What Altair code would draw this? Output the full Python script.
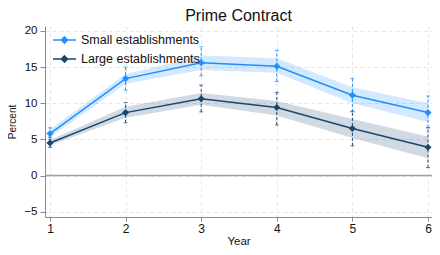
import altair as alt
import pandas as pd

years = [1, 2, 3, 4, 5, 6]
y_ticks = [-5, 0, 5, 10, 15, 20]
series_names = ["Small establishments", "Large establishments"]

small_est = [5.8, 13.4, 15.6, 15.1, 11.1, 8.7]
small_ci_lo = [5.0, 11.8, 13.8, 13.0, 8.8, 6.6]
small_ci_hi = [6.6, 15.0, 17.8, 17.3, 13.4, 11.0]
small_band_lo = [5.3, 12.7, 14.6, 14.2, 10.0, 7.4]
small_band_hi = [6.4, 14.0, 16.6, 16.2, 12.2, 10.0]

large_est = [4.5, 8.7, 10.6, 9.4, 6.5, 3.9]
large_ci_lo = [3.9, 7.3, 8.8, 7.0, 4.1, 1.1]
large_ci_hi = [5.3, 10.1, 12.5, 11.5, 8.9, 6.6]
large_band_lo = [4.2, 8.0, 9.8, 8.3, 5.2, 2.4]
large_band_hi = [4.9, 9.5, 11.4, 10.3, 7.8, 5.4]

colors = ["#1f8fff", "#1a476f"]

rows = []
for name, est, lo, hi, blo, bhi in [
    (series_names[0], small_est, small_ci_lo, small_ci_hi, small_band_lo, small_band_hi),
    (series_names[1], large_est, large_ci_lo, large_ci_hi, large_band_lo, large_band_hi),
]:
    for i, yr in enumerate(years):
        rows.append(dict(series=name, year=yr, est=est[i], lo=lo[i], hi=hi[i], blo=blo[i], bhi=bhi[i]))
df = pd.DataFrame(rows)

FONT = "Liberation Sans"

xscale = alt.Scale(domain=[0.934, 6.053], nice=False, zero=False)
yscale = alt.Scale(domain=[-5.73, 20.67], nice=False, zero=False)
cscale = alt.Scale(domain=series_names, range=colors)

xaxis = alt.Axis(values=years, title="Year", format="d", tickSize=4, labelPadding=2,
                 labelFontSize=12, titleFontSize=11.5, titlePadding=1)
yaxis = alt.Axis(values=y_ticks, title="Percent", tickSize=5, labelPadding=3,
                 labelFontSize=11.5, titleFontSize=10, titlePadding=6)

X = alt.X("year:Q", scale=xscale, axis=xaxis)


def Y(field):
    return alt.Y(field, type="quantitative", scale=yscale, axis=yaxis)


base = alt.Chart(df)

layers = []
for name, col in zip(series_names, colors):
    sub = base.transform_filter(alt.datum.series == name)
    layers.append(sub.mark_area(opacity=0.2, color=col).encode(
        x=X, y=Y("blo"), y2="bhi:Q",
    ))

zero = alt.Chart(pd.DataFrame({"z": [0]})).mark_rule(color="#a0a0a0", strokeWidth=1.5).encode(
    y=Y("z")
)
layers.append(zero)

for name, col in zip(series_names, colors):
    sub = base.transform_filter(alt.datum.series == name)
    layers.append(sub.mark_rule(strokeDash=[3, 2], strokeWidth=1, color=col).encode(
        x=X, y=Y("lo"), y2="hi:Q"))
    layers.append(sub.mark_tick(orient="horizontal", size=4, thickness=1, color=col).encode(
        x=X, y=Y("lo")))
    layers.append(sub.mark_tick(orient="horizontal", size=4, thickness=1, color=col).encode(
        x=X, y=Y("hi")))

legend_symbol = ("M-1.64,0H1.64"
                 "M0,-0.44L0.44,0L0,0.44L-0.44,0Z"
                 "M0,-0.27L0.27,0L0,0.27L-0.27,0Z"
                 "M0,-0.1L0.1,0L0,0.1L-0.1,0Z")

legend = alt.Legend(
    title=None, orient="none", legendX=11.5, legendY=6,
    symbolType=legend_symbol,
    symbolSize=196, symbolStrokeWidth=1.5, labelFont=FONT, labelFontSize=12.5,
    labelColor="#111", labelOffset=8.5, rowPadding=4, padding=0,
)

layers.append(base.mark_line(strokeWidth=1.5).encode(
    x=X, y=Y("est"),
    color=alt.Color("series:N", scale=cscale, legend=legend),
))

for name, col in zip(series_names, colors):
    sub = base.transform_filter(alt.datum.series == name)
    layers.append(sub.mark_point(shape="diamond", filled=True, size=50, opacity=1, color=col).encode(
        x=X, y=Y("est")))

chart = alt.layer(*layers).properties(
    width=387, height=191,
    autosize=alt.AutoSizeParams(type="none"),
    padding={"left": 37, "top": 18, "right": 0, "bottom": 30},
    title=alt.TitleParams("Prime Contract", fontSize=16, font=FONT, fontWeight="normal",
                          color="#111", anchor="middle", offset=1),
).configure_view(stroke=None).configure_axis(
    domainWidth=1, grid=True, gridDash=[4, 3], gridColor="#e6e6e6",
    domainColor="#8a8a8a", tickColor="#8a8a8a", labelFont=FONT, labelColor="#111",
    labelOverlap=False, titleFont=FONT, titleFontWeight="normal", titleColor="#111",
)

chart.save("out.html", embed_options={"renderer": "svg", "actions": False})
